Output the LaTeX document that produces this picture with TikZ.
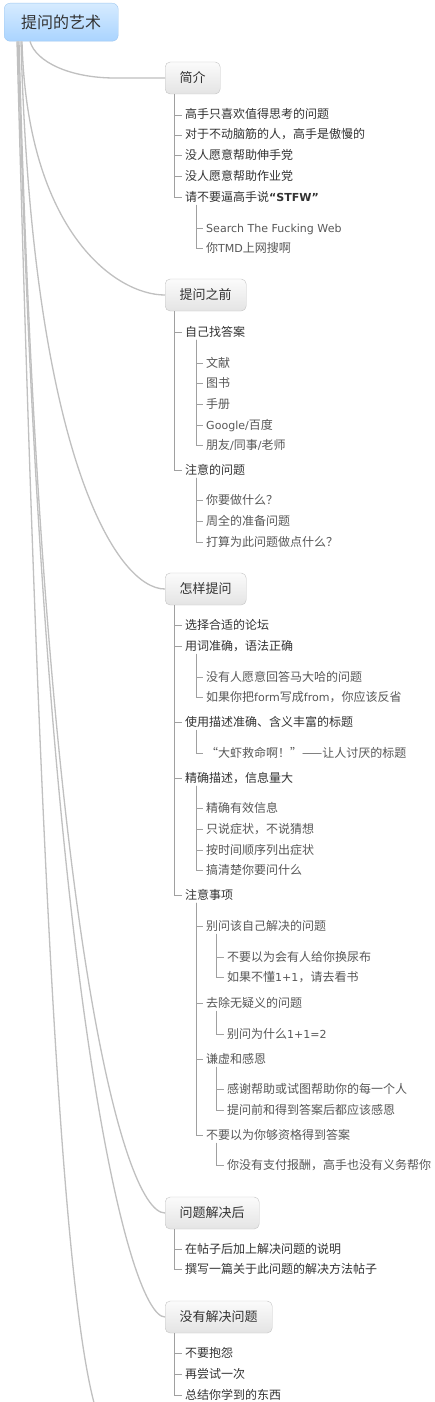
\documentclass[tikz,border=0pt]{standalone}
\usepackage{fontspec}
\setmainfont{Noto Sans CJK SC}
\newfontfamily\lat{DejaVu Sans}[Scale=0.92]
\newcommand\latn[1]{{\lat #1}}
\definecolor{linegray}{RGB}{192,192,192}
\definecolor{treegray}{RGB}{160,160,160}
\definecolor{textdark}{RGB}{51,51,51}
\definecolor{textgray}{RGB}{88,88,88}
\definecolor{roottop}{RGB}{214,235,255}
\definecolor{rootbottom}{RGB}{170,212,255}
\definecolor{rootdraw}{RGB}{160,200,240}
\definecolor{boxtop}{RGB}{251,251,251}
\definecolor{boxbottom}{RGB}{228,228,228}
\definecolor{boxdraw}{RGB}{196,196,196}
\tikzset{
  rootlink/.style={draw=linegray, line width=1.3pt},
  treelink/.style={draw=treegray, line width=0.9pt},
  rootbox/.style={
    draw=rootdraw,
    top color=roottop,
    bottom color=rootbottom,
    rounded corners=6pt,
    minimum width=114pt,
    minimum height=38pt,
    font=\fontsize{16}{18}\selectfont,
    text=textdark
  },
  topicbox/.style={
    draw=boxdraw,
    top color=boxtop,
    bottom color=boxbottom,
    rounded corners=5pt,
    inner xsep=14.5pt,
    minimum height=32pt,
    font=\fontsize{13}{15}\selectfont,
    text=textdark
  },
  itemtext/.style={
    anchor=west,
    inner xsep=3pt,
    inner ysep=1.5pt,
    text height=10pt,
    text depth=2pt,
    font=\fontsize{12}{14}\selectfont,
    text=textdark
  },
  subtext/.style={itemtext, text=textgray}
}
\begin{document}
\begin{tikzpicture}[x=1pt, y=-1pt]

\useasboundingbox (0,0) rectangle (434,1402);
\fill[white] (0,0) rectangle (434,1402);
\clip (0,0) rectangle (434,1402);

\node[rootbox, anchor=north west] (root) at (4,3) {提问的艺术};

\node[topicbox, anchor=west] (b1) at (165,78) {简介};
\node[topicbox, anchor=west] (b2) at (165,295) {提问之前};
\node[topicbox, anchor=west] (b3) at (165,589) {怎样提问};
\node[topicbox, anchor=west] (b4) at (165,1213) {问题解决后};
\node[topicbox, anchor=west] (b5) at (165,1317) {没有解决问题};
\coordinate (b6) at (165,1440);

% Curves from the root
\draw[rootlink] ([xshift=26pt]root.south west) .. controls (36,62) and (70,78) ..
  ([xshift=-50pt]b1.west) -- (b1.west);
\foreach \b/\s/\cx/\cy in {b2/18/27/232, b3/17/32/452, b4/15/42/920,
                           b5/14/44/998, b6/13/45/1090} {
  \draw[rootlink] ([xshift=\s pt]root.south west) .. controls (\cx,\cy) and
    ([xshift=-90pt]\b) .. ([xshift=-50pt]\b) -- (\b);
}

% Intro
\foreach \n/\y/\t in {c11/115/高手只喜欢值得思考的问题, c12/135/{对于不动脑筋的人，高手是傲慢的},
                      c13/155/没人愿意帮助伸手党, c14/176/没人愿意帮助作业党,
                      c15/197/{请不要逼高手说{\bfseries\lat “STFW”}}} {
  \node[itemtext] (\n) at (182,\y) {\t};
  \draw[treelink] ([xshift=9pt]b1.south west) |- (\n.west);
}
\node[subtext] (d151) at (203,228) {\latn{Search The Fucking Web}};
\node[subtext] (d152) at (203,248) {你\latn{TMD}上网搜啊};
\foreach \n in {d151, d152}
  \draw[treelink] ([xshift=14pt]c15.south west) |- (\n.west);

% Before asking
\node[itemtext] (c21) at (182,332) {自己找答案};
\node[itemtext] (c22) at (182,470) {注意的问题};
\foreach \n in {c21, c22}
  \draw[treelink] ([xshift=9pt]b2.south west) |- (\n.west);
\foreach \n/\y/\t in {d211/363/文献, d212/383/图书, d213/404/手册,
                      d214/425/{\latn{Google/}百度}, d215/445/{朋友\latn{/}同事\latn{/}老师}} {
  \node[subtext] (\n) at (203,\y) {\t};
  \draw[treelink] ([xshift=14pt]c21.south west) |- (\n.west);
}
\foreach \n/\y/\t in {d221/500/你要做什么？, d222/521/周全的准备问题, d223/542/打算为此问题做点什么？} {
  \node[subtext] (\n) at (203,\y) {\t};
  \draw[treelink] ([xshift=14pt]c22.south west) |- (\n.west);
}

% How to ask
\foreach \n/\y/\t in {c31/625/选择合适的论坛, c32/646/{用词准确，语法正确},
                      c33/722/{使用描述准确、含义丰富的标题}, c34/778/{精确描述，信息量大},
                      c35/895/注意事项} {
  \node[itemtext] (\n) at (182,\y) {\t};
  \draw[treelink] ([xshift=9pt]b3.south west) |- (\n.west);
}
\foreach \p/\n/\y/\t in {c32/d321/677/没有人愿意回答马大哈的问题,
                         c32/d322/697/{如果你把\latn{form}写成\latn{from}，你应该反省},
                         c33/d331/753/{“大虾救命啊！”——让人讨厌的标题},
                         c34/d341/808/精确有效信息, c34/d342/829/{只说症状，不说猜想},
                         c34/d343/850/按时间顺序列出症状, c34/d344/870/搞清楚你要问什么,
                         c35/d351/926/别问该自己解决的问题, c35/d352/1003/去除无疑义的问题,
                         c35/d353/1059/谦虚和感恩, c35/d354/1135/不要以为你够资格得到答案} {
  \node[subtext] (\n) at (203,\y) {\t};
  \draw[treelink] ([xshift=14pt]\p.south west) |- (\n.west);
}
\foreach \p/\n/\y/\t in {d351/e3511/957/不要以为会有人给你换尿布,
                         d351/e3512/977/{如果不懂\latn{1+1}，请去看书},
                         d352/e3521/1034/{别问为什么\latn{1+1=2}},
                         d353/e3531/1089/感谢帮助或试图帮助你的每一个人,
                         d353/e3532/1110/提问前和得到答案后都应该感恩,
                         d354/e3541/1165/{你没有支付报酬，高手也没有义务帮你}} {
  \node[subtext] (\n) at (224,\y) {\t};
  \draw[treelink] ([xshift=13pt]\p.south west) |- (\n.west);
}

% After solving
\foreach \n/\y/\t in {c41/1249/在帖子后加上解决问题的说明, c42/1269/撰写一篇关于此问题的解决方法帖子} {
  \node[itemtext] (\n) at (182,\y) {\t};
  \draw[treelink] ([xshift=9pt]b4.south west) |- (\n.west);
}

% Not solved
\foreach \n/\y/\t in {c51/1353/不要抱怨, c52/1374/再尝试一次, c53/1395/总结你学到的东西} {
  \node[itemtext] (\n) at (182,\y) {\t};
  \draw[treelink] ([xshift=9pt]b5.south west) |- (\n.west);
}

\end{tikzpicture}
\end{document}
